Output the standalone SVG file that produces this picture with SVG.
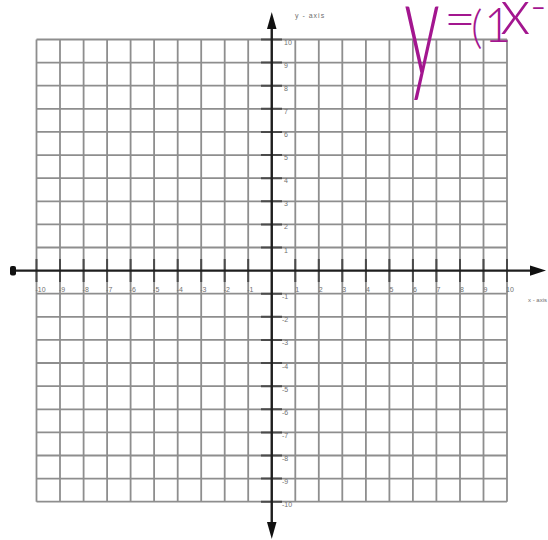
<svg xmlns="http://www.w3.org/2000/svg" width="548" height="540" viewBox="0 0 548 540">
<style>
.grid{fill:none;stroke:#8e8e8e;stroke-width:1.8}
.axis{fill:none;stroke:#1e1e1e;stroke-width:2.4}
.tick{fill:none;stroke:#4a4a4a;stroke-width:2}
.head{fill:#111}
.lbl{font-family:"Liberation Sans",Arial,sans-serif;font-size:7px;fill:#707070}
.ax{font-family:"Liberation Sans",Arial,sans-serif;font-size:6.5px;fill:#6e6e6e}
.hand{font-family:Lato,"Open Sans",sans-serif;font-weight:300;fill:#a3168f}
</style>
<rect width="548" height="540" fill="#fff"/>
<g id="grid">
<path class="grid" d="M36.5 39.5V501.7M60 39.5V501.7M83.6 39.5V501.7M107.1 39.5V501.7M130.6 39.5V501.7M154.1 39.5V501.7M177.7 39.5V501.7M201.2 39.5V501.7M224.7 39.5V501.7M248.2 39.5V501.7M295.3 39.5V501.7M318.8 39.5V501.7M342.3 39.5V501.7M365.9 39.5V501.7M389.4 39.5V501.7M412.9 39.5V501.7M436.4 39.5V501.7M460 39.5V501.7M483.5 39.5V501.7M507 39.5V501.7
M36.5 39.5H507M36.5 62.6H507M36.5 85.7H507M36.5 108.8H507M36.5 131.9H507M36.5 155.1H507M36.5 178.2H507M36.5 201.3H507M36.5 224.4H507M36.5 247.5H507M36.5 293.7H507M36.5 316.8H507M36.5 339.9H507M36.5 363H507M36.5 386.2H507M36.5 409.3H507M36.5 432.4H507M36.5 455.5H507M36.5 478.6H507M36.5 501.7H507"/>
</g>
<g id="axes">
<path class="tick" d="M36.5 259V282M60 259V282M83.6 259V282M107.1 259V282M130.6 259V282M154.1 259V282M177.7 259V282M201.2 259V282M224.7 259V282M248.2 259V282M295.3 259V282M318.8 259V282M342.3 259V282M365.9 259V282M389.4 259V282M412.9 259V282M436.4 259V282M460 259V282M483.5 259V282M507 259V282
M261 39.5H282M261 62.6H282M261 85.7H282M261 108.8H282M261 131.9H282M261 155.1H282M261 178.2H282M261 201.3H282M261 224.4H282M261 247.5H282M261 293.7H282M261 316.8H282M261 339.9H282M261 363H282M261 386.2H282M261 409.3H282M261 432.4H282M261 455.5H282M261 478.6H282M261 501.7H282"/>
<path class="axis" d="M13 270.6H532M271.75 27V524"/>
<rect class="head" x="10" y="266" width="6" height="9.5" rx="2"/>
<polygon class="head" points="530,265.4 546,270.6 530,275.8"/>
<polygon class="head" points="267,29 271.75,12 276.5,29"/>
<polygon class="head" points="267,522 271.75,539 276.5,522"/>
</g>
<g id="x-labels" class="lbl">
<text x="35.5" y="291.5">-10</text><text x="59" y="291.5">-9</text><text x="82.6" y="291.5">-8</text><text x="106.1" y="291.5">-7</text><text x="129.6" y="291.5">-6</text><text x="153.1" y="291.5">-5</text><text x="176.7" y="291.5">-4</text><text x="200.2" y="291.5">-3</text><text x="223.7" y="291.5">-2</text><text x="247.2" y="291.5">-1</text>
<text x="295.3" y="291.5">1</text><text x="318.8" y="291.5">2</text><text x="342.3" y="291.5">3</text><text x="365.9" y="291.5">4</text><text x="389.4" y="291.5">5</text><text x="412.9" y="291.5">6</text><text x="436.4" y="291.5">7</text><text x="460" y="291.5">8</text><text x="483.5" y="291.5">9</text><text x="506" y="291.5">10</text>
</g>
<g id="y-labels" class="lbl">
<text x="284" y="44.5">10</text><text x="284" y="67.6">9</text><text x="284" y="90.7">8</text><text x="284" y="113.8">7</text><text x="284" y="136.9">6</text><text x="284" y="160.1">5</text><text x="284" y="183.2">4</text><text x="284" y="206.3">3</text><text x="284" y="229.4">2</text><text x="284" y="252.5">1</text>
<text x="282" y="299.2">-1</text><text x="282" y="322.3">-2</text><text x="282" y="345.4">-3</text><text x="282" y="368.5">-4</text><text x="282" y="391.7">-5</text><text x="282" y="414.8">-6</text><text x="282" y="437.9">-7</text><text x="282" y="461">-8</text><text x="282" y="484.1">-9</text><text x="282" y="507.2">-10</text>
</g>
<g id="axis-titles" class="ax">
<text x="295" y="17.5" font-size="7" letter-spacing="1">y - axis</text>
<text x="528" y="302" font-size="6">x - axis</text>
</g>
<g id="handwriting" class="hand">
<text transform="translate(404,76) scale(0.95,1.85)" font-size="75">y</text>
<text><tspan x="444" y="38" font-size="55">=</tspan><tspan x="471" y="43" font-size="45">(</tspan><tspan x="484" y="42" font-size="47">1</tspan><tspan x="500" y="34" font-size="65">x</tspan><tspan x="530" y="22" font-size="45">-</tspan></text>
</g>
</svg>
